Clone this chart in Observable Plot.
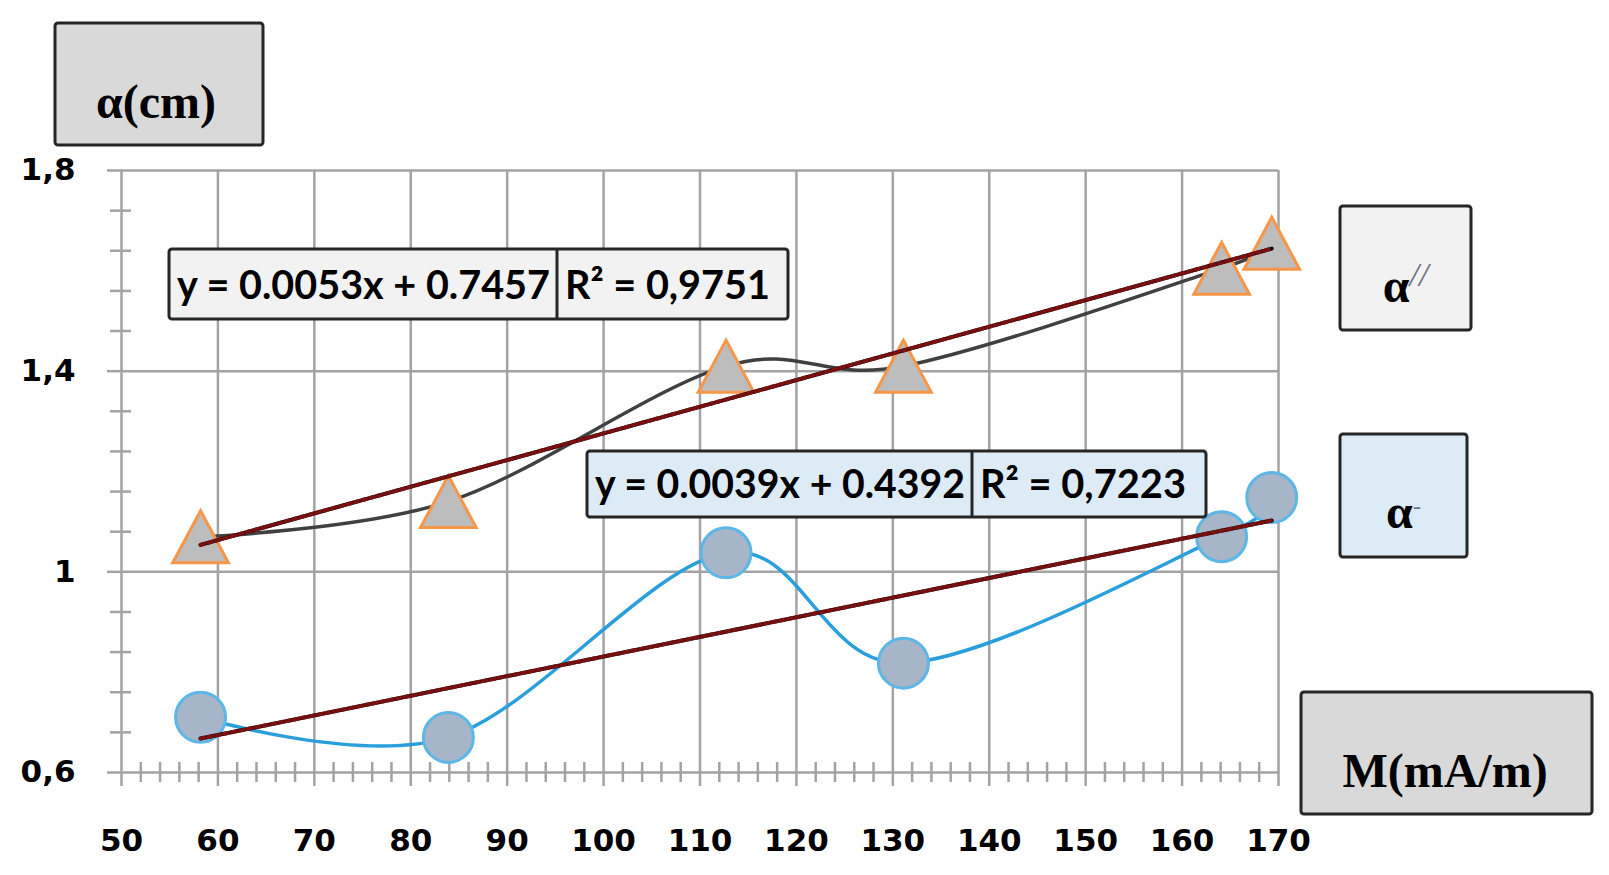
<!DOCTYPE html>
<html>
<head>
<meta charset="utf-8">
<script src="https://cdn.jsdelivr.net/npm/d3@7"></script>
<script src="https://cdn.jsdelivr.net/npm/@observablehq/plot@0.6"></script>
<style>
  html, body { margin: 0; padding: 0; background: #fff; }
  #chart { position: relative; width: 1609px; height: 875px; overflow: hidden; background: #fff; }
</style>
</head>
<body>
<div id="chart"></div>
<script>
// ---- data ----
const mValues = [58.2, 83.9, 112.7, 131.1, 164.1, 169.3];          // M (mA/m)
const alphaParallel = [1.07, 1.14, 1.41, 1.41, 1.605, 1.655];      // α//  (cm)
const alphaPerp = [0.71, 0.67, 1.038, 0.818, 1.07, 1.148];         // α-   (cm)

const xTicks = [50, 60, 70, 80, 90, 100, 110, 120, 130, 140, 150, 160, 170];
const yTicks = [0.6, 1.0, 1.4, 1.8];
const yTickLabels = ["0,6", "1", "1,4", "1,8"];
const yMinorTicks = [0.68, 0.76, 0.84, 0.92, 1.08, 1.16, 1.24, 1.32, 1.48, 1.56, 1.64, 1.72];
const xMinorTicks = d3.range(52, 170, 2).filter(v => v % 10 !== 0);

const eqParallel = ["y = 0.0053x + 0.7457", "R² = 0,9751"];
const eqPerp = ["y = 0.0039x + 0.4392", "R² = 0,7223"];
const yTitle = "α(cm)";
const xTitle = "M(mA/m)";
const seriesNames = [["α", "//"], ["α", "-"]];

// ---- tables ----
const parRows = mValues.map((m, i) => ({m, a: alphaParallel[i]}));
const perpRows = mValues.map((m, i) => ({m, a: alphaPerp[i]}));

const gridColor = "#a3a3a3";

// bounding-box centred triangle (Excel-like marker)
const triangleSymbol = {
  draw(ctx, size) {
    const r = Math.sqrt(size / Math.PI);
    const hw = r * 1.07;
    ctx.moveTo(0, -r);
    ctx.lineTo(hw, r);
    ctx.lineTo(-hw, r);
    ctx.closePath();
  }
};

const plot = Plot.plot({
  width: 1609,
  height: 875,
  marginLeft: 121,
  marginRight: 331,
  marginTop: 170,
  marginBottom: 103,
  style: {background: "#fff", color: "#000", fontFamily: "DejaVu Sans", fontWeight: "bold", overflow: "visible"},
  x: {domain: [50, 170], label: null},
  y: {domain: [0.6, 1.8], label: null},
  marks: [
    Plot.gridX(xTicks, {stroke: gridColor, strokeOpacity: 1, strokeWidth: 2.5}),
    Plot.gridY(yTicks, {stroke: gridColor, strokeOpacity: 1, strokeWidth: 2.5}),
    Plot.ruleX(xMinorTicks, {y1: 0.6, y2: 0.6, insetTop: -10, insetBottom: -10, stroke: gridColor, strokeWidth: 2.5}),
    Plot.ruleY(yMinorTicks, {x1: 50, x2: 50, insetLeft: -11, insetRight: -10, stroke: gridColor, strokeWidth: 2.5}),
    Plot.axisX(xTicks, {label: null, tickSize: 14, tickPadding: 42, stroke: gridColor, strokeWidth: 2.5, fill: "#000",
      fontSize: 31, fontWeight: "bold", fontFamily: "DejaVu Sans", tickFormat: d => String(d)}),
    Plot.axisY(yTicks, {label: null, tickSize: 14, tickPadding: 32, stroke: gridColor, strokeWidth: 2.5, fill: "#000",
      fontSize: 31, fontWeight: "bold", fontFamily: "DejaVu Sans", tickFormat: d => yTickLabels[yTicks.indexOf(d)]}),
    // smoothed series lines
    Plot.line(parRows, {x: "m", y: "a", curve: "cardinal", tension: 0, stroke: "#404040", strokeWidth: 3.5}),
    Plot.line(perpRows, {x: "m", y: "a", curve: "cardinal", tension: 0, stroke: "#2a9fdc", strokeWidth: 3.5}),
    // markers
    Plot.dot(parRows, {x: "m", y: "a", symbol: triangleSymbol, r: 26, fill: "#bdbdbd", stroke: "#f79646", strokeWidth: 3}),
    Plot.dot(perpRows, {x: "m", y: "a", r: 25, fill: "#a6b5c8", stroke: "#5cb6e6", strokeWidth: 3}),
    // linear trend lines (black with dark-red dashes)
    Plot.linearRegressionY(parRows, {x: "m", y: "a", ci: 0, stroke: "#120606", strokeWidth: 4}),
    Plot.linearRegressionY(parRows, {x: "m", y: "a", ci: 0, stroke: "#7a1010", strokeWidth: 4, strokeDasharray: "4,4"}),
    Plot.linearRegressionY(perpRows, {x: "m", y: "a", ci: 0, stroke: "#120606", strokeWidth: 4}),
    Plot.linearRegressionY(perpRows, {x: "m", y: "a", ci: 0, stroke: "#7a1010", strokeWidth: 4, strokeDasharray: "4,4"})
  ]
});

document.getElementById("chart").appendChild(plot);

// ---- annotation boxes (titles, legend, trend-line equations) ----
const svg = d3.select(plot);
const layer = svg.append("g").attr("class", "annotations").attr("text-anchor", "start");

function box(x, y, w, h, fill) {
  layer.append("rect").attr("x", x).attr("y", y).attr("width", w).attr("height", h)
    .attr("rx", 3).attr("fill", fill).attr("stroke", "#262626").attr("stroke-width", 3);
}
function serifText(x, y, str, size) {
  return layer.append("text").attr("x", x).attr("y", y).attr("text-anchor", "middle")
    .attr("font-family", "Liberation Serif").attr("font-weight", "bold").attr("font-size", size)
    .attr("fill", "#000").text(str);
}

// axis titles
box(55, 23, 208, 122, "#d9d9d9");
serifText(156, 118, yTitle, 48);
box(1301, 692, 291, 122, "#d9d9d9");
serifText(1445, 787, xTitle, 48);

// series legend boxes
function legendBox(x, y, w, h, fill, name, baseline, supSize, supDy) {
  box(x, y, w, h, fill);
  const t = layer.append("text").attr("x", x + w / 2).attr("y", baseline).attr("text-anchor", "middle")
    .attr("font-family", "Liberation Serif").attr("font-weight", "bold").attr("font-size", 48).attr("fill", "#000");
  t.append("tspan").text(name[0]);
  t.append("tspan").attr("dy", supDy).attr("font-size", supSize).attr("font-weight", "normal")
    .attr("font-style", "italic").attr("fill", "#6f6f80").text(name[1]);
}
legendBox(1340, 206, 131, 124, "#f2f2f2", seriesNames[0], 302, 34, -16);
legendBox(1340, 434, 127, 123, "#ddebf7", seriesNames[1], 528, 24, -14);

// trend-line equation boxes
function eqBox(x, y, w, h, divider, fill, texts, lens, baseline) {
  box(x, y, w, h, fill);
  layer.append("line").attr("x1", divider).attr("x2", divider).attr("y1", y).attr("y2", y + h)
    .attr("stroke", "#262626").attr("stroke-width", 3);
  layer.append("text").attr("x", x + 8).attr("y", baseline).attr("text-anchor", "start")
    .attr("font-family", "Lato").attr("font-weight", "bold").attr("font-size", 40).attr("fill", "#000")
    .attr("textLength", lens[0]).attr("lengthAdjust", "spacingAndGlyphs").text(texts[0]);
  layer.append("text").attr("x", divider + 8).attr("y", baseline).attr("text-anchor", "start")
    .attr("font-family", "Lato").attr("font-weight", "bold").attr("font-size", 40).attr("fill", "#000")
    .attr("textLength", lens[1]).attr("lengthAdjust", "spacingAndGlyphs").text(texts[1]);
}
eqBox(169, 249, 619, 70, 557, "#f2f2f2", eqParallel, [373, 205], 299);
eqBox(587, 451, 619, 66, 972, "#ddebf7", eqPerp, [370, 206], 498);
</script>
</body>
</html>
